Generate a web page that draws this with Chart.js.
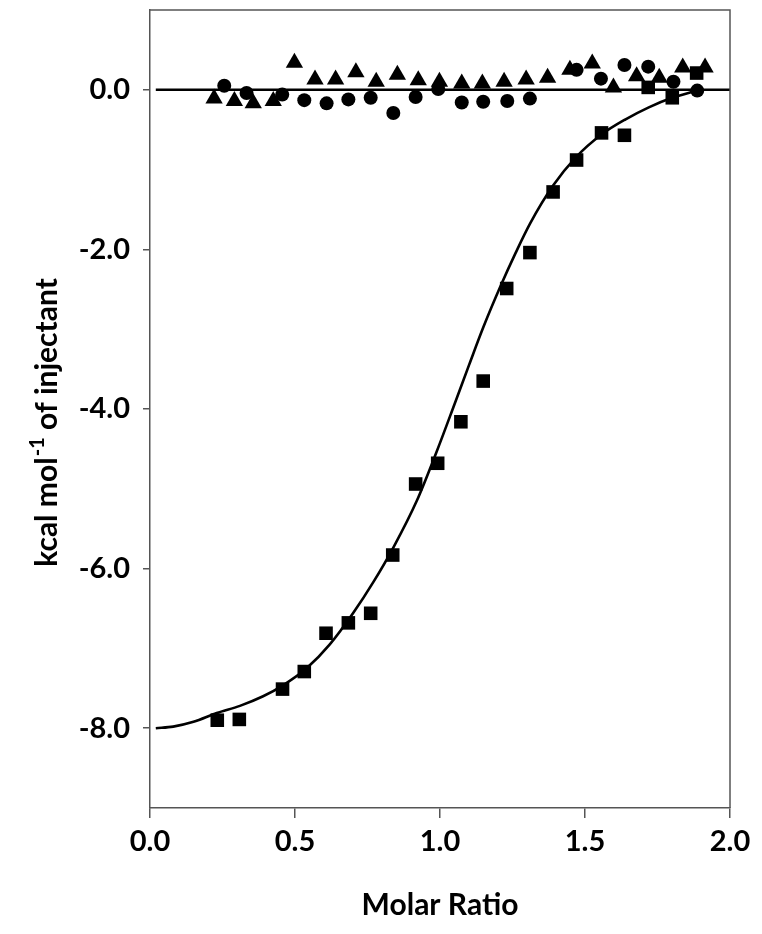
<!DOCTYPE html>
<html>
<head>
<meta charset="utf-8">
<script src="https://cdn.jsdelivr.net/npm/chart.js@4.4.1/dist/chart.umd.min.js"></script>
<style>
html,body{margin:0;padding:0;background:#fff;}
canvas{display:block;}
</style>
</head>
<body>
<canvas id="c" width="762" height="934"></canvas>
<script>
// ---- data ----
const squareX = [0.232,0.308,0.457,0.532,0.607,0.684,0.761,0.837,0.916,0.992,1.072,1.149,1.230,1.310,1.390,1.471,1.557,1.636,1.718,1.801,1.885];
const squareY = [-7.90,-7.89,-7.51,-7.29,-6.81,-6.68,-6.56,-5.83,-4.94,-4.68,-4.16,-3.65,-2.49,-2.04,-1.28,-0.88,-0.54,-0.57,0.03,-0.10,0.21];

const circleX = [0.256,0.333,0.456,0.532,0.609,0.684,0.761,0.839,0.916,0.994,1.075,1.149,1.232,1.310,1.471,1.555,1.636,1.718,1.805,1.887];
const circleY = [0.05,-0.04,-0.06,-0.13,-0.17,-0.12,-0.10,-0.29,-0.09,0.01,-0.16,-0.15,-0.14,-0.11,0.25,0.14,0.31,0.29,0.10,-0.01];

const triangleX = [0.221,0.291,0.356,0.425,0.498,0.569,0.640,0.710,0.780,0.853,0.925,0.998,1.075,1.146,1.221,1.297,1.371,1.448,1.525,1.598,1.678,1.756,1.837,1.914];
const triangleY = [-0.11,-0.14,-0.17,-0.14,0.34,0.13,0.13,0.22,0.10,0.19,0.12,0.10,0.08,0.08,0.10,0.13,0.15,0.25,0.33,0.03,0.17,0.15,0.28,0.28];

const fitX = [0.02,0.08,0.15,0.23,0.31,0.39,0.46,0.54,0.62,0.70,0.77,0.84,0.92,0.99,1.05,1.10,1.15,1.21,1.26,1.31,1.39,1.47,1.557,1.64,1.72,1.80,1.885];
const fitY = [-8.00,-7.98,-7.92,-7.81,-7.72,-7.60,-7.46,-7.25,-6.95,-6.56,-6.17,-5.73,-5.15,-4.52,-3.94,-3.45,-2.97,-2.45,-2.05,-1.68,-1.20,-0.84,-0.56,-0.37,-0.22,-0.10,-0.01];

const baseX = [0.02, 2.0];
const baseY = [0, 0];

const xTicks = [0.0,0.5,1.0,1.5,2.0];
const yTicks = [-8,-6,-4,-2,0];

const xTitle = "Molar Ratio";
const yTitleParts = ["kcal mol", "-1", " of injectant"];

const zip = (xs, ys) => xs.map((x, i) => ({x: x, y: ys[i]}));
const AXIS = '#555555';
const FONT = 'Lato, "Open Sans", sans-serif';

const boxPlugin = {
  id: 'box',
  afterDraw(chart) {
    const {ctx, chartArea: a} = chart;
    ctx.save();
    ctx.strokeStyle = AXIS;
    ctx.lineWidth = 1.5;
    ctx.beginPath();
    ctx.moveTo(a.left, a.top);
    ctx.lineTo(a.right, a.top);
    ctx.lineTo(a.right, a.bottom);
    ctx.stroke();
    ctx.restore();
  }
};

const titlePlugin = {
  id: 'titles',
  afterDraw(chart) {
    const ctx = chart.ctx;
    const a = chart.chartArea;
    ctx.save();
    ctx.fillStyle = '#000';
    // x title
    ctx.font = 'bold 30px ' + FONT;
    ctx.textAlign = 'center';
    ctx.textBaseline = 'alphabetic';
    ctx.fillText(xTitle, (a.left + a.right) / 2, 915);
    // y title with superscript
    const mainSize = 30, supSize = 20;
    ctx.font = 'bold ' + mainSize + 'px ' + FONT;
    const w1 = ctx.measureText(yTitleParts[0]).width;
    const w3 = ctx.measureText(yTitleParts[2]).width;
    ctx.font = 'bold ' + supSize + 'px ' + FONT;
    const w2 = ctx.measureText(yTitleParts[1]).width;
    const total = w1 + w2 + w3;
    const cy = 423;
    ctx.translate(57, cy + total / 2);
    ctx.rotate(-Math.PI / 2);
    ctx.textAlign = 'left';
    ctx.font = 'bold ' + mainSize + 'px ' + FONT;
    ctx.fillText(yTitleParts[0], 0, 0);
    ctx.font = 'bold ' + supSize + 'px ' + FONT;
    ctx.fillText(yTitleParts[1], w1 + 1, -13);
    ctx.font = 'bold ' + mainSize + 'px ' + FONT;
    ctx.fillText(yTitleParts[2], w1 + w2 + 1, 0);
    ctx.restore();
  }
};

new Chart(document.getElementById('c'), {
  type: 'scatter',
  data: {
    datasets: [
      {
        type: 'line', label: 'fit', data: zip(fitX, fitY),
        borderColor: '#000', borderWidth: 2.6, pointRadius: 0,
        cubicInterpolationMode: 'monotone', fill: false, order: 5
      },
      {
        type: 'line', label: 'baseline', data: zip(baseX, baseY),
        borderColor: '#000', borderWidth: 2.6, pointRadius: 0, fill: false, order: 5
      },
      {
        label: 'squares', data: zip(squareX, squareY),
        pointStyle: 'rect', pointRadius: 9.6, backgroundColor: '#000', borderColor: '#000', borderWidth: 0, order: 1
      },
      {
        label: 'circles', data: zip(circleX, circleY),
        pointStyle: 'circle', pointRadius: 7, backgroundColor: '#000', borderColor: '#000', borderWidth: 0, order: 2
      },
      {
        label: 'triangles', data: zip(triangleX, triangleY),
        pointStyle: 'triangle', pointRadius: 10, backgroundColor: '#000', borderColor: '#000', borderWidth: 0, order: 3
      }
    ]
  },
  options: {
    responsive: false,
    animation: false,
    layout: { padding: { left: 0, right: 32, top: 9, bottom: 0 } },
    plugins: { legend: { display: false }, tooltip: { enabled: false } },
    scales: {
      x: {
        type: 'linear', min: 0, max: 2,
        afterBuildTicks: (s) => { s.ticks = xTicks.map(v => ({value: v})); },
        afterFit: (s) => { s.height = 126; s.paddingLeft = 0; s.paddingRight = 0; },
        border: { color: AXIS, width: 1.5 },
        grid: { drawOnChartArea: false, drawTicks: true, tickLength: 10, color: AXIS, lineWidth: 1.5 },
        ticks: {
          color: '#000', padding: 6,
          font: { family: FONT, size: 29, weight: 'bold' },
          callback: (v) => Number(v).toFixed(1)
        }
      },
      y: {
        type: 'linear', min: -9, max: 1,
        afterBuildTicks: (s) => { s.ticks = yTicks.map(v => ({value: v})); },
        afterFit: (s) => { s.width = 150; s.paddingTop = 0; s.paddingBottom = 0; },
        border: { color: AXIS, width: 1.5 },
        grid: { drawOnChartArea: false, drawTicks: true, tickLength: 7, color: AXIS, lineWidth: 1.5 },
        ticks: {
          color: '#000', padding: 13,
          font: { family: FONT, size: 29, weight: 'bold' },
          callback: (v) => Number(v).toFixed(1)
        }
      }
    }
  },
  plugins: [boxPlugin, titlePlugin]
});
</script>
</body>
</html>
